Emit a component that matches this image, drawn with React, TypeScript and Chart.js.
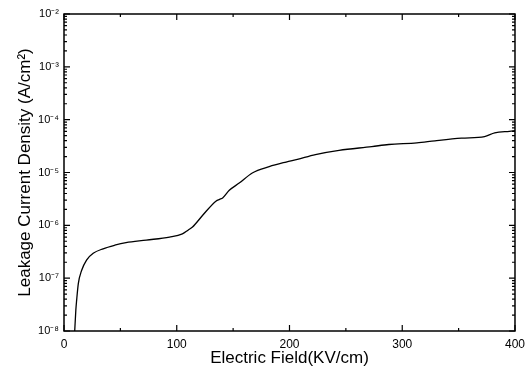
import React, { useEffect, useRef } from 'react';
import { Chart, registerables } from 'chart.js';

Chart.register(...registerables);

// Electric field (kV/cm)
const fieldKVcm = [
  9.5, 10.5, 11.2, 12.7, 15.6, 20, 25.9, 34.7, 45, 55, 73, 93.6, 105, 110, 114,
  123, 135, 138, 140.7, 146.6, 155.4, 167, 182, 197, 207, 223, 244, 273, 288,
  313, 329, 352.6, 373, 382, 395, 400,
];

// Leakage current density (A/cm^2)
const currentDensity = [
  1.0e-8, 2.5e-8, 3.8e-8, 7.9e-8, 1.4e-7, 2.2e-7, 2.95e-7, 3.6e-7, 4.2e-7, 4.7e-7,
  5.25e-7, 6.0e-7, 6.9e-7, 8.1e-7, 9.3e-7, 1.55e-6, 2.9e-6, 3.1e-6, 3.3e-6, 4.6e-6,
  6.3e-6, 9.8e-6, 1.29e-5, 1.58e-5, 1.78e-5, 2.19e-5, 2.63e-5, 3.09e-5, 3.39e-5,
  3.63e-5, 3.98e-5, 4.47e-5, 4.79e-5, 5.62e-5, 6.03e-5, 6.17e-5,
];

const xMajorTicks = [0, 100, 200, 300, 400];
const xMinorTicks = [50, 150, 250, 350];
const yDecades = [1e-8, 1e-7, 1e-6, 1e-5, 1e-4, 1e-3, 1e-2];
const yDecadeLabels = ['10⁻⁸', '10⁻⁷', '10⁻⁶', '10⁻⁵', '10⁻⁴', '10⁻³', '10⁻²'];
const yMinorMultipliers = [2, 3, 4, 5, 6, 7, 8, 9];

const FONT = "'Liberation Sans', Arial, Helvetica, sans-serif";

const framePlugin = {
  id: 'frameTicks',
  afterDraw(chart: any) {
    const { ctx, chartArea, scales } = chart;
    const { left, right, top, bottom } = chartArea;
    const x = scales.x;
    const y = scales.y;
    ctx.save();
    ctx.strokeStyle = '#000';
    ctx.lineWidth = 1.5;
    ctx.strokeRect(left, top, right - left, bottom - top);
    ctx.lineWidth = 1.2;
    ctx.beginPath();
    const xt = (v: number, len: number) => {
      const px = x.getPixelForValue(v);
      ctx.moveTo(px, bottom);
      ctx.lineTo(px, bottom - len);
      ctx.moveTo(px, top);
      ctx.lineTo(px, top + len);
    };
    xMajorTicks.forEach((v) => xt(v, 6));
    xMinorTicks.forEach((v) => xt(v, 3));
    const yt = (v: number, len: number) => {
      const py = y.getPixelForValue(v);
      ctx.moveTo(left, py);
      ctx.lineTo(left + len, py);
      ctx.moveTo(right, py);
      ctx.lineTo(right - len, py);
    };
    yDecades.forEach((d, i) => {
      yt(d, 6);
      if (i < yDecades.length - 1) {
        yMinorMultipliers.forEach((m) => yt(d * m, 3));
      }
    });
    ctx.stroke();
    ctx.restore();
  },
};

export default function App() {
  const canvasRef = useRef<HTMLCanvasElement | null>(null);

  useEffect(() => {
    if (!canvasRef.current) return;
    const points = fieldKVcm.map((e, i) => ({ x: e, y: currentDensity[i] }));
    const chart = new Chart(canvasRef.current, {
      type: 'line',
      data: {
        datasets: [
          {
            data: points,
            borderColor: '#000',
            borderWidth: 1.3,
            pointRadius: 0,
            fill: false,
            cubicInterpolationMode: 'monotone',
          },
        ],
      },
      options: {
        animation: false,
        responsive: false,
        maintainAspectRatio: false,
        layout: { padding: { top: 14, right: 15, left: 0, bottom: 0 } },
        plugins: { legend: { display: false }, tooltip: { enabled: false } },
        scales: {
          x: {
            type: 'linear',
            min: 0,
            max: 400,
            grid: { display: false, drawTicks: false },
            border: { display: false },
            ticks: {
              stepSize: 100,
              color: '#000',
              font: { family: FONT, size: 12 },
              padding: 6,
              maxRotation: 0,
            },
            title: {
              display: true,
              text: 'Electric Field(KV/cm)',
              color: '#000',
              font: { family: FONT, size: 17 },
              padding: { top: 0, bottom: 9 },
            },
            afterFit: (s: any) => {
              s.height = 47;
            },
          },
          y: {
            type: 'logarithmic',
            min: 1e-8,
            max: 1e-2,
            grid: { display: false, drawTicks: false },
            border: { display: false },
            ticks: {
              autoSkip: false,
              color: '#000',
              font: { family: FONT, size: 11 },
              padding: 5,
              callback: (v: any) => {
                const lv = Math.log10(Number(v));
                const idx = yDecades.findIndex((d) => Math.abs(Math.log10(d) - lv) < 1e-6);
                return idx >= 0 ? yDecadeLabels[idx] : '';
              },
            },
            title: {
              display: true,
              text: 'Leakage Current Density (A/cm²)',
              color: '#000',
              font: { family: FONT, size: 17 },
              padding: { top: 15, bottom: 0 },
            },
            afterFit: (s: any) => {
              s.width = 64;
            },
          },
        },
      },
      plugins: [framePlugin],
    } as any);
    return () => chart.destroy();
  }, []);

  return (
    <div style={{ position: 'absolute', left: 0, top: 0, width: 531, height: 378, background: '#fff' }}>
      <canvas ref={canvasRef} width={531} height={378} style={{ display: 'block' }} />
    </div>
  );
}
